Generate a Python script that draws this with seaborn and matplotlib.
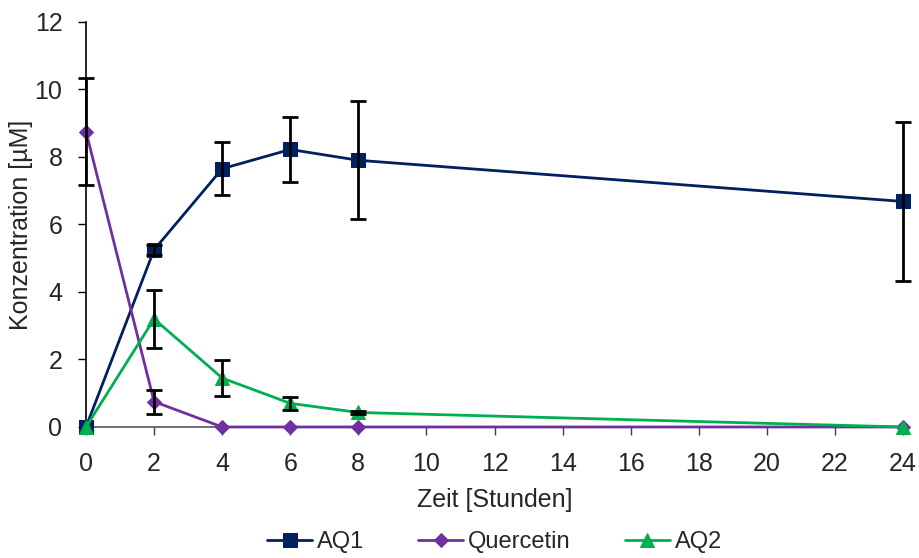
import matplotlib
matplotlib.use("Agg")
import matplotlib.pyplot as plt
import seaborn as sns
import pandas as pd

# Zeitpunkte in Stunden
zeit = [0, 2, 4, 6, 8, 24]

aq1 = [0.0, 5.25, 7.65, 8.22, 7.90, 6.68]
aq1_err = [0.0, 0.15, 0.79, 0.96, 1.75, 2.35]

quercetin = [8.75, 0.75, 0.0, 0.0, 0.0, 0.0]
quercetin_err = [1.58, 0.36, 0.0, 0.0, 0.0, 0.0]

aq2 = [0.0, 3.2, 1.45, 0.70, 0.43, 0.0]
aq2_err = [0.0, 0.85, 0.52, 0.20, 0.05, 0.0]

x_ticks = list(range(0, 25, 2))
y_ticks = list(range(0, 13, 2))

serien = [
    ("AQ1", aq1, aq1_err, "#002060", "s", 10),
    ("Quercetin", quercetin, quercetin_err, "#7030A0", "D", 7),
    ("AQ2", aq2, aq2_err, "#00B050", "^", 10),
]

sns.set_style("white")
plt.rcParams['font.family'] = ['Liberation Sans', 'DejaVu Sans']

fig = plt.figure(figsize=(9.19, 5.58), dpi=100)
ax = fig.add_axes([0.0936, 0.2348, 0.889, 0.726])

for name, werte, fehler, farbe, marker, ms in serien:
    df = pd.DataFrame({"zeit": zeit, "wert": werte})
    sns.lineplot(data=df, x="zeit", y="wert", ax=ax, color=farbe, marker=marker,
                 markersize=ms, markeredgecolor=farbe, linewidth=2, label=name,
                 clip_on=False, zorder=3)
    sel = [i for i, e in enumerate(fehler) if e > 0]
    ax.errorbar([zeit[i] for i in sel], [werte[i] for i in sel],
                yerr=[fehler[i] for i in sel], fmt="none", ecolor="black",
                elinewidth=2, capsize=6, capthick=2, zorder=4, clip_on=False)

ax.set_xlim(0, 24)
ax.set_ylim(0, 12)
ax.set_xticks(x_ticks)
ax.set_yticks(y_ticks)
ax.tick_params(axis="both", labelsize=18, direction="out", length=6,
               width=1, color="black", left=True, bottom=True)
ax.tick_params(axis="x", pad=12, color="#404040")
ax.tick_params(axis="y", pad=11)
ax.set_xlabel("Zeit [Stunden]", fontsize=18, labelpad=9)
ax.set_ylabel("Konzentration [µM]", fontsize=18, labelpad=1)

for side in ["top", "right"]:
    ax.spines[side].set_visible(False)
ax.spines["left"].set_color("black")
ax.spines["left"].set_linewidth(1.2)
ax.spines["bottom"].set_color("#555555")
ax.spines["bottom"].set_linewidth(1.2)

ax.legend(loc="center", bbox_to_anchor=(0.5, -0.285), ncol=3,
          frameon=False, fontsize=17, handlelength=1.9, columnspacing=2.3,
          handletextpad=0.2, borderaxespad=0)

fig.savefig("out.png", dpi=100)
